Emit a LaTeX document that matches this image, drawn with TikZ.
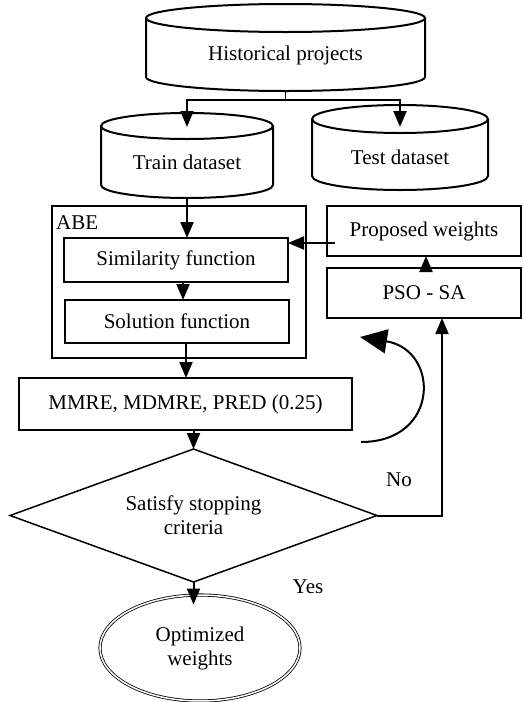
\documentclass[tikz,border=0pt]{standalone}
\usepackage{fontspec}
\setmainfont{Liberation Serif}
\usetikzlibrary{positioning}
\usetikzlibrary{shapes.geometric}
\usetikzlibrary{arrows.meta}
\tikzset{
  box/.style={draw, line width=2pt, inner sep=0pt, outer sep=0pt},
  cylbase/.style={inner sep=0pt, outer sep=0pt},
  arr/.style={line width=2pt, -{Triangle[length=16pt,width=13pt]}},
  bigarr/.style={line width=2pt, -{Triangle[length=27pt,width=24pt]}}
}
\newcommand\drawcyl[3]{
  \draw[line width=2pt] ([yshift=-#3]#1.north) ellipse[x radius=#2, y radius=#3];
  \draw[line width=2pt] ([yshift=-#3]#1.north west) -- ([yshift=#3]#1.south west)
    arc[start angle=180, end angle=360, x radius=#2, y radius=#3] -- ([yshift=-#3]#1.north east);
}

\begin{document}
\begin{tikzpicture}[x=1pt, y=-1pt, every node/.style={font=\fontsize{21}{24}\selectfont, align=center}]
	\useasboundingbox (0,0) rectangle (523,702);
	% data stores
	\node[cylbase, minimum width=279pt, minimum height=87pt] (hist) at (285.5,47.5) {};
	\node (histtxt) at ([yshift=-8pt]hist.center) {Historical projects};
	\drawcyl{hist}{139.5pt}{14pt}
	\node[cylbase, minimum width=172pt, minimum height=85pt] (train) at (187,155.5) {};
	\node (traintxt) at ([yshift=-7pt]train.center) {Train dataset};
	\drawcyl{train}{86pt}{13pt}
	\node[cylbase, minimum width=176pt, minimum height=85pt] (test) at (400,147.5) {};
	\node (testtxt) at ([yshift=-10pt]test.center) {Test dataset};
	\drawcyl{test}{88pt}{14pt}
	% ABE block
	\node[box, minimum width=254pt, minimum height=152pt] (abe) at (179,282) {};
	\node[anchor=north west, inner sep=0pt] (abetxt) at ([xshift=4pt,yshift=-9pt]abe.north west) {ABE};
	\node[box, minimum width=224pt, minimum height=44pt] (sim) at (176,260) {Similarity function};
	\node[box, minimum width=224pt, minimum height=43pt] (sol) at (177,321.5) {Solution function};
	\node[box, minimum width=333pt, minimum height=52pt] (mmre) at (185.5,404) {MMRE, MDMRE, PRED (0.25)};
	% optimiser
	\node[box, minimum width=194pt, minimum height=50pt] (prop) at (424,231) {Proposed weights};
	\node[box, minimum width=194pt, minimum height=50pt] (pso) at (424,293) {PSO - SA};
	% decision and result
	\node[diamond, aspect=2.76, draw, line width=1.5pt, inner sep=0pt, outer sep=0pt, minimum width=367pt, minimum height=133pt] (dia) at (193.5,515.5) {Satisfy stopping\\criteria};
	\node[ellipse, draw, double, double distance=1.5pt, line width=0.8pt, inner sep=0pt, minimum width=200pt, minimum height=106pt] (opt) at (200,648) {Optimized\\weights};
	\node (yeslbl) at (308,587) {Yes};
	\node (nolbl) at (399,480) {No};
	% connectors
	\coordinate (split) at ([yshift=-9pt]hist.south);
	\draw[line width=1pt] (hist.south) -- (split);
	\draw[arr] (split) -| ([yshift=-14pt]train.north);
	\draw[arr] (split) -| ([yshift=-22pt]test.north);
	\draw[arr] (train.south) -- (train.south |- sim.north);
	\draw[arr] ([xshift=7pt]sim.south) -- ([xshift=7pt]sim.south |- sol.north);
	\draw[arr] ([xshift=9pt]sol.south) -- ([xshift=9pt]sol.south |- mmre.north);
	\draw[arr] (dia.north |- mmre.south) -- (dia.north);
	\draw[arr, shorten >=-10pt] (dia.south) -- (dia.south |- opt.north);
	\coordinate (noturn) at (442,515.5);
	\draw[arr] (dia.east) -- (noturn) -- (noturn |- pso.south);
	\draw[arr] ([xshift=2pt]pso.north) -- ([xshift=2pt]prop.south);
	\draw[arr, shorten <=-8pt] ([yshift=-12pt]prop.west) -- ([yshift=-12pt]prop.west -| sim.east);
	\coordinate (loopa) at (361,442);
	\coordinate (loopb) at (360,337);
	\draw[bigarr] (loopa) .. controls (440,442) and (440,350) .. (loopb);
\end{tikzpicture}
\end{document}
